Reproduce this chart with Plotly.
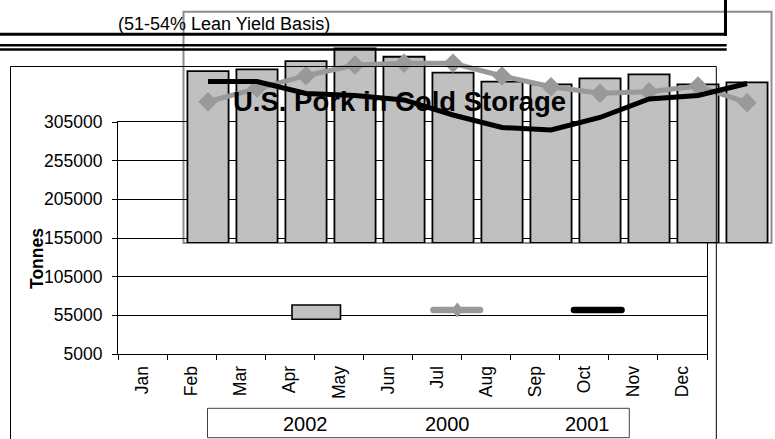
import plotly.graph_objects as go

# ---- data ----
months = ["Jan", "Feb", "Mar", "Apr", "May", "Jun", "Jul", "Aug", "Sep", "Oct", "Nov", "Dec"]
pork_2002 = [228000, 230300, 241000, 257500, 246600, 225900, 214200, 210800, 218600, 223800, 210800, 213400]
pork_2000 = [188300, 205600, 222000, 235900, 238100, 238100, 221600, 207700, 199200, 201200, 208600, 187000]
pork_2001 = [214500, 214500, 199000, 196300, 190500, 171000, 154800, 151600, 167800, 191800, 196300, 211900]
series_names = ["2002", "2000", "2001"]
y_ticks = [5000, 55000, 105000, 155000, 205000, 255000, 305000]
AXIS_MIN = 5000
AXIS_MAX = 305000

W, H = 775, 439
FONT = "Liberation Sans, Arial, sans-serif"
GRAY_BAR = "#C0C0C0"
GRAY_LINE = "#999999"


def px(x):
    return min(max(x / W, 0.0), 1.0)


def py(y):
    return min(max(1 - y / H, 0.0), 1.0)


fig = go.Figure()

# overlay (displaced plot area) with the data
fig.add_trace(go.Bar(
    x=months, y=[v - AXIS_MIN for v in pork_2002], base=AXIS_MIN, name=series_names[0],
    width=0.84, marker=dict(color=GRAY_BAR, line=dict(color="#000000", width=1.8)),
    xaxis="x2", yaxis="y2", showlegend=False,
))
fig.add_trace(go.Scatter(
    x=months, y=pork_2000, name=series_names[1], mode="lines+markers",
    line=dict(color=GRAY_LINE, width=5),
    marker=dict(symbol="diamond", size=15, color=GRAY_LINE),
    xaxis="x2", yaxis="y2", showlegend=False, cliponaxis=False,
))
fig.add_trace(go.Scatter(
    x=months, y=pork_2001, name=series_names[2], mode="lines",
    line=dict(color="#000000", width=5),
    xaxis="x2", yaxis="y2", showlegend=False, cliponaxis=False,
))
# empty main plot (axes only)
fig.add_trace(go.Scatter(x=months, y=[None] * 12, mode="lines", showlegend=False,
                         xaxis="x", yaxis="y", hoverinfo="skip"))

shapes = []
# top black box: bottom rule + right edge
shapes.append(dict(type="line", xref="paper", yref="paper",
                   x0=px(0), x1=px(727), y0=py(34.2), y1=py(34.2),
                   line=dict(color="#000000", width=3)))
shapes.append(dict(type="line", xref="paper", yref="paper",
                   x0=px(725.5), x1=px(725.5), y0=py(35.7), y1=py(0),
                   line=dict(color="#000000", width=3)))
# double rule
for yy in (45.2, 49.5):
    shapes.append(dict(type="line", xref="paper", yref="paper",
                       x0=px(0), x1=px(726.7), y0=py(yy), y1=py(yy),
                       line=dict(color="#000000", width=2.4)))
# main chart area border (left, top, right)
shapes.append(dict(type="path", xref="paper", yref="paper",
                   path=(f"M {px(10.5)},{py(439)} L {px(10.5)},{py(66.5)} "
                         f"L {px(716.3)},{py(66.5)} L {px(716.3)},{py(439)}"),
                   line=dict(color="#000000", width=1)))
# displaced gray plot-area border
shapes.append(dict(type="rect", xref="paper", yref="paper",
                   x0=px(183.5), x1=px(771.5), y0=py(243), y1=py(11.7),
                   line=dict(color="#8C8C8C", width=2), layer="below"))
# legend box
shapes.append(dict(type="rect", xref="paper", yref="paper",
                   x0=px(207.5), x1=px(629.3), y0=py(437.7), y1=py(408.3),
                   line=dict(color="#404040", width=1)))
# legend glyphs (displaced)
shapes.append(dict(type="rect", xref="paper", yref="paper",
                   x0=px(292), x1=px(340.5), y0=py(319.3), y1=py(305),
                   fillcolor=GRAY_BAR, line=dict(color="#000000", width=1.6), layer="above"))


def capsule(x1, x2, yc, r, color):
    path = (f"M {px(x1)},{py(yc - r)} L {px(x2)},{py(yc - r)} "
            f"Q {px(x2 + r)},{py(yc - r)} {px(x2 + r)},{py(yc)} "
            f"Q {px(x2 + r)},{py(yc + r)} {px(x2)},{py(yc + r)} "
            f"L {px(x1)},{py(yc + r)} "
            f"Q {px(x1 - r)},{py(yc + r)} {px(x1 - r)},{py(yc)} "
            f"Q {px(x1 - r)},{py(yc - r)} {px(x1)},{py(yc - r)} Z")
    return dict(type="path", xref="paper", yref="paper", path=path,
                fillcolor=color, line=dict(color=color, width=0), layer="above")


shapes.append(capsule(433.5, 480, 310, 3.3, GRAY_LINE))
dx, dy, cx, cy = 6, 7.5, 457.3, 310
shapes.append(dict(type="path", xref="paper", yref="paper",
                   path=(f"M {px(cx)},{py(cy - dy)} L {px(cx + dx)},{py(cy)} "
                         f"L {px(cx)},{py(cy + dy)} L {px(cx - dx)},{py(cy)} Z"),
                   fillcolor=GRAY_LINE, line=dict(color=GRAY_LINE, width=0), layer="above"))
shapes.append(capsule(574, 621.5, 310, 3.3, "#000000"))

annotations = [
    dict(text="(51-54% Lean Yield Basis)", x=px(224), y=py(23.5), xref="paper", yref="paper",
         showarrow=False, xanchor="center", yanchor="middle",
         font=dict(family=FONT, size=18, color="#000000")),
    dict(text="<b>U.S. Pork in Cold Storage</b>", x=px(399), y=py(101), xref="paper", yref="paper",
         showarrow=False, xanchor="center", yanchor="middle",
         font=dict(family=FONT, size=27.5, color="#000000")),
    dict(text="<b>Tonnes</b>", x=px(37), y=py(259), xref="paper", yref="paper",
         showarrow=False, xanchor="center", yanchor="middle", textangle=-90,
         font=dict(family=FONT, size=17.5, color="#000000")),
]
for name, cxp in zip(series_names, (305, 447, 587)):
    annotations.append(dict(text=name, x=px(cxp), y=py(424), xref="paper", yref="paper",
                            showarrow=False, xanchor="center", yanchor="middle",
                            font=dict(family=FONT, size=20, color="#000000")))

fig.update_layout(
    width=W, height=H,
    margin=dict(l=0, r=0, t=0, b=0, pad=0, autoexpand=False),
    paper_bgcolor="#FFFFFF", plot_bgcolor="rgba(0,0,0,0)",
    font=dict(family=FONT, color="#000000"),
    showlegend=False,
    xaxis=dict(domain=[px(118), px(707)], type="category", range=[-0.5, 11.5],
               showline=True, linecolor="#000000", linewidth=1, mirror=True,
               ticks="outside", tickson="boundaries", ticklen=5, tickcolor="#000000",
               tickangle=-90, tickfont=dict(family=FONT, size=17.5, color="#000000"),
               showgrid=False, zeroline=False, ticklabelstandoff=4, automargin=False),
    yaxis=dict(domain=[py(354), py(122)], range=[AXIS_MIN, AXIS_MAX],
               tickvals=y_ticks, ticktext=[str(v) for v in y_ticks],
               showline=True, linecolor="#000000", linewidth=1, mirror=True,
               ticks="outside", ticklen=5, tickcolor="#000000",
               tickfont=dict(family=FONT, size=17.5, color="#000000"),
               showgrid=True, gridcolor="#000000", gridwidth=1, zeroline=False,
               ticklabelstandoff=6, automargin=False),
    xaxis2=dict(domain=[px(183.5), px(771.5)], type="category", range=[-0.5, 11.5],
                anchor="y2", showline=False, showgrid=False, showticklabels=False,
                ticks="", zeroline=False),
    yaxis2=dict(domain=[py(243), py(11.7)], range=[AXIS_MIN, AXIS_MAX], anchor="x2",
                showline=False, showgrid=False, showticklabels=False, ticks="",
                zeroline=False),
    shapes=shapes,
    annotations=annotations,
    bargap=0.16,
)

fig.write_html(
    "out.html",
    config={"displayModeBar": False},
    post_script="document.body.style.margin='0';document.body.style.overflow='hidden';",
)
